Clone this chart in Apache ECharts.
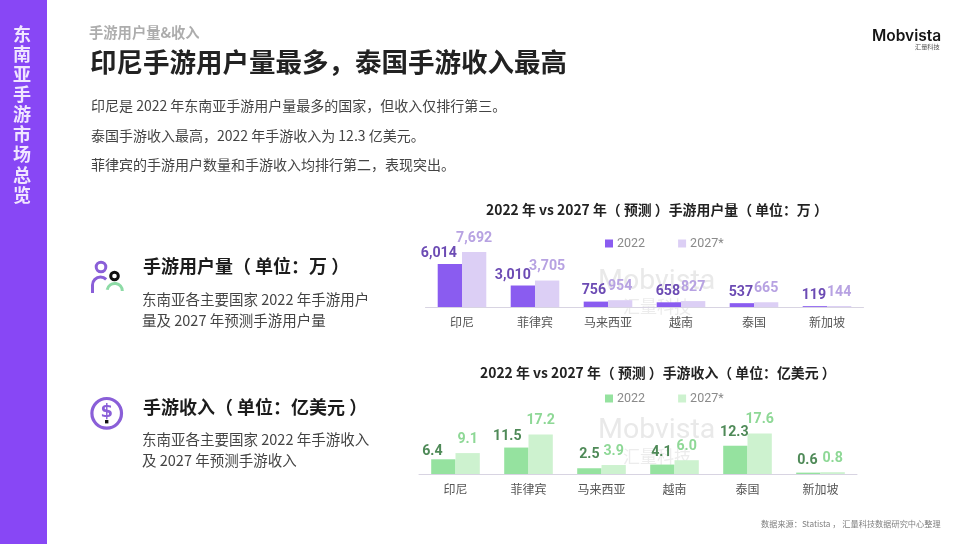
<!DOCTYPE html>
<html><head><meta charset="utf-8">
<style>html,body{margin:0;padding:0;background:#fff}#c{width:968px;height:544px}</style>
<script src="https://cdn.jsdelivr.net/npm/echarts@6/dist/echarts.min.js"></script>
</head><body><div id="c"></div>
<script>
const categories = ['印尼','菲律宾','马来西亚','越南','泰国','新加坡'];
const users2022 = [6014,3010,756,658,537,119];
const users2027 = [7692,3705,954,827,665,144];
const revenue2022 = [6.4,11.5,2.5,4.1,12.3,0.6];
const revenue2027 = [9.1,17.2,3.9,6.0,17.6,0.8];
const seriesNames = ['2022','2027*'];

const CJK = '"Noto Sans CJK SC","Noto Sans",sans-serif';
const NUM = 'Roboto,"Noto Sans",sans-serif';
function t(x,y,text,size,weight,color,extra){
  return Object.assign({type:'text',x:x,y:y,z:10,silent:true,
    style:{text:text,fontSize:size,fontWeight:weight,fill:color,fontFamily:CJK,textVerticalAlign:'middle',textAlign:'left'}},extra||{});
}
const sideText = '东南亚手游市场总览'.split('').map((ch,i)=>
  t(22,34+i*20.1,ch,18,'bold','#f0e6ff',{style:{text:ch,fontSize:18,fontWeight:'bold',fill:'#f0e6ff',fontFamily:CJK,textVerticalAlign:'middle',textAlign:'center'}}));

const purple='#8a5fd8';
const graphics = [
  {type:'rect',shape:{x:0,y:0,width:47,height:544},style:{fill:'#8847f5'},z:5,silent:true},
  ...sideText,
  t(89,33,'手游用户量&收入',14.3,'bold','#adadad'),
  t(90,62,'印尼手游用户量最多，泰国手游收入最高',26.5,'bold','#222222'),
  t(91,106,'印尼是 2022 年东南亚手游用户量最多的国家，但收入仅排行第三。',14,'normal','#444444'),
  t(91,136,'泰国手游收入最高，2022 年手游收入为 12.3 亿美元。',14,'normal','#444444'),
  t(91,165,'菲律宾的手游用户数量和手游收入均排行第二，表现突出。',14,'normal','#444444'),
  t(486,210,'2022 年 vs 2027 年（ 预测 ）手游用户量（ 单位：万 ）',13.9,'bold','#222222'),
  t(480,373,'2022 年 vs 2027 年（ 预测 ）手游收入（ 单位：亿美元 ）',13.9,'bold','#222222'),
  t(143,266,'手游用户量（ 单位：万 ）',18,'bold','#1c1c1c'),
  t(142,299,'东南亚各主要国家 2022 年手游用户',14.5,'normal','#444444'),
  t(142,320,'量及 2027 年预测手游用户量',14.5,'normal','#444444'),
  t(143,407,'手游收入（ 单位：亿美元 ）',18,'bold','#1c1c1c'),
  t(142,439,'东南亚各主要国家 2022 年手游收入',14.5,'normal','#444444'),
  t(142,460,'及 2027 年预测手游收入',14.5,'normal','#444444'),
  t(761,524,'数据来源：Statista ， 汇量科技数据研究中心整理',8.2,'normal','#808080'),
  // logo
  {type:'text',x:872,y:36,z:10,silent:true,style:{text:'Mobvista',fontSize:15.5,fontWeight:600,fill:'#151515',fontFamily:'Inter,'+NUM,textVerticalAlign:'middle'}},
  t(915,47,'汇量科技',6.2,'normal','#555555'),
  // watermarks
  {type:'text',x:598,y:282,z:0,silent:true,style:{text:'Mobvista',fontSize:28.5,fill:'#e9e9e9',fontFamily:NUM,textVerticalAlign:'middle'}},
  t(623,307,'汇量科技',17,'normal','#ececec',{z:0}),
  {type:'text',x:598,y:431,z:0,silent:true,style:{text:'Mobvista',fontSize:28.5,fill:'#e9e9e9',fontFamily:NUM,textVerticalAlign:'middle'}},
  t(623,457,'汇量科技',17,'normal','#ececec',{z:0}),
  // people icon
  {type:'circle',shape:{cx:101,cy:267,r:4.8},style:{fill:'none',stroke:purple,lineWidth:3},z:10,silent:true},
  {type:'arc',shape:{cx:100.5,cy:285,r:8,startAngle:Math.PI,endAngle:Math.PI*1.75},style:{fill:'none',stroke:purple,lineWidth:3},z:10,silent:true},
  {type:'line',shape:{x1:92.5,y1:285,x2:92.5,y2:293},style:{stroke:purple,lineWidth:3},z:10,silent:true},
  {type:'circle',shape:{cx:114.5,cy:276,r:3.8},style:{fill:'none',stroke:'#111111',lineWidth:3},z:10,silent:true},
  {type:'arc',shape:{cx:114.7,cy:291,r:7.6,startAngle:Math.PI*1.05,endAngle:Math.PI*2},style:{fill:'none',stroke:'#8ddba6',lineWidth:3},z:10,silent:true},
  // money icon
  {type:'circle',shape:{cx:106.7,cy:413.3,r:14.8},style:{fill:'none',stroke:purple,lineWidth:3.2},z:10,silent:true},
  {type:'text',x:106.7,y:412.5,z:10,silent:true,style:{text:'$',fontSize:18,fontWeight:'bold',fill:purple,fontFamily:'"DejaVu Sans",'+NUM,textAlign:'center',textVerticalAlign:'middle'}},
  {type:'rect',shape:{x:105,y:420,width:3.4,height:3.4},style:{fill:'#111111'},z:11,silent:true}
];

// label nudges relative to each bar's own position, per category
const nudge1 = [[-11,0],[-10,1],[-2,0],[-1,0],[-1,0],[-1,0]];
const nudge2 = [[-11,6],[-9,3],[0,0],[-1,2],[-1,1],[-1,2]];
function barSeries(name,idx,values,color,labelColor,dist,nudge,fmt){
  return {type:'bar',name:name,xAxisIndex:idx,yAxisIndex:idx,barWidth:24.3,barGap:0,z:3,
    itemStyle:{color:color},
    label:{show:true,position:'top',distance:dist,color:labelColor,fontFamily:NUM,fontWeight:'bold',fontSize:14.2,formatter:fmt},
    data:values.map((v,i)=>({value:v,label:{offset:nudge?nudge[i]:[0,0]}}))};
}
const fmtUsers = p => p.value.toLocaleString('en-US');
const fmtRev = p => p.value.toFixed(1);
function legend(top,c1,c2){
  return {top:top,left:600,itemWidth:8,itemHeight:8,itemGap:33,icon:'rect',selectedMode:false,
    textStyle:{color:'#8a8a8a',fontSize:12.5,fontFamily:NUM,padding:[0,0,0,-1]},
    data:[{name:seriesNames[0],itemStyle:{color:c1}},{name:seriesNames[1],itemStyle:{color:c2}}]};
}
function xAxis(idx){
  return {gridIndex:idx,type:'category',data:categories,
    axisTick:{show:false},axisLine:{lineStyle:{color:'#d8d4e2',width:1}},
    axisLabel:{color:'#555555',fontSize:12,fontFamily:CJK,margin:9,interval:0}};
}
const option = {
  animation:false,
  backgroundColor:'#ffffff',
  graphic:{elements:graphics},
  legend:[legend(232,'#8a5cf0','#dccff5'),legend(387,'#95e29f','#cdf2cf')],
  grid:[
    {left:425.5,width:438,top:207,height:100},
    {left:419,width:438,top:374,height:100}
  ],
  xAxis:[xAxis(0),xAxis(1)],
  yAxis:[
    {gridIndex:0,type:'value',min:0,max:14000,show:false},
    {gridIndex:1,type:'value',min:0,max:43.5,show:false}
  ],
  series:[
    barSeries(seriesNames[0],0,users2022,'#8a5cf0','#6c4bb4',4,nudge1,fmtUsers),
    barSeries(seriesNames[1],0,users2027,'#dccff5','#b7a2e2',7,null,fmtUsers),
    barSeries(seriesNames[0],1,revenue2022,'#95e29f','#4f8a58',7,nudge2,fmtRev),
    barSeries(seriesNames[1],1,revenue2027,'#cdf2cf','#8ed896',7,null,fmtRev)
  ]
};
echarts.init(document.getElementById('c'),null,{renderer:'canvas'}).setOption(option);
</script></body></html>
